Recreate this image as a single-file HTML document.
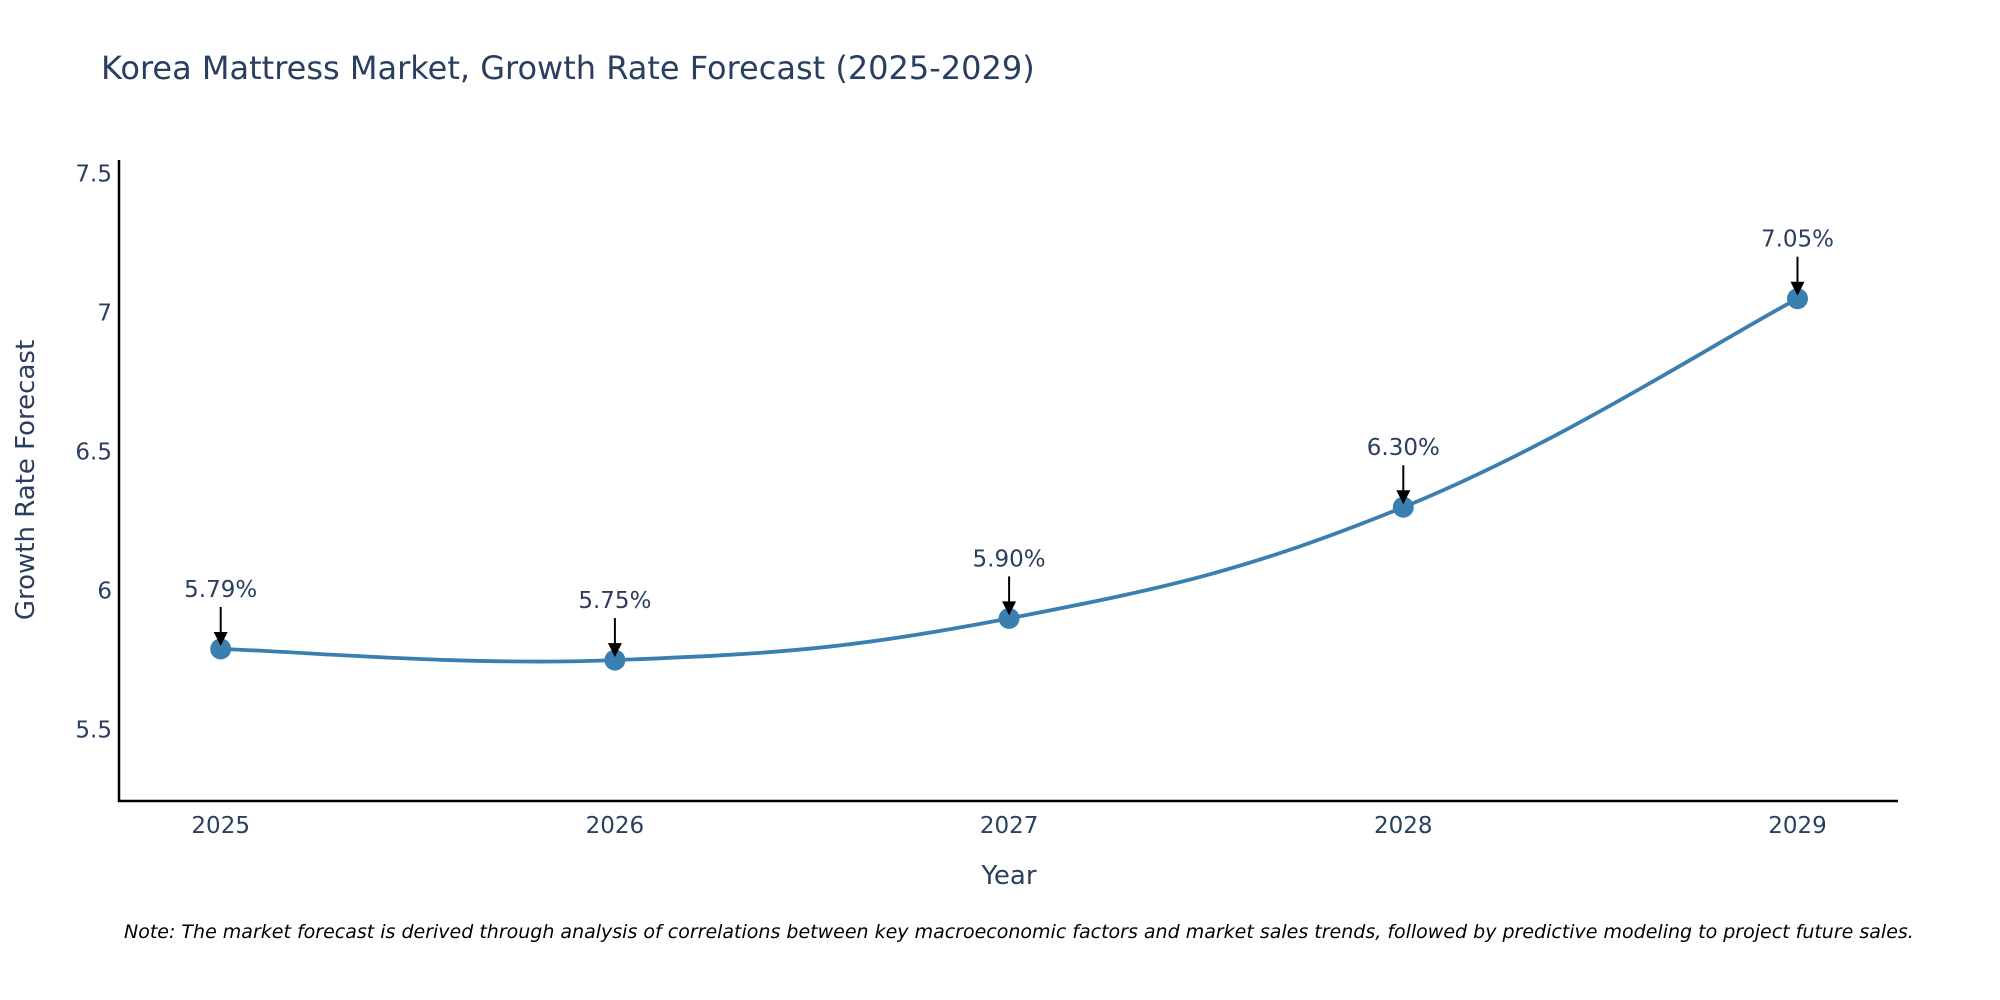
<!DOCTYPE html>
<html><head><meta charset="utf-8">
<style>
html,body{margin:0;padding:0;background:#fff;}
svg{display:block;font-family:"DejaVu Sans","Liberation Sans",sans-serif;}
</style></head>
<body>
<svg id="chart" width="2000" height="1000" viewBox="0 0 2000 1000" xmlns="http://www.w3.org/2000/svg">
<text x="101" y="79" font-size="32" fill="#2a3f5f">Korea Mattress Market, Growth Rate Forecast (2025-2029)</text>
<g id="yticks"></g>
<g id="xticks"></g>
<line x1="119" y1="160" x2="119" y2="802" stroke="#000" stroke-width="2.5"/>
<line x1="118" y1="801" x2="1898" y2="801" stroke="#000" stroke-width="2.5"/>
<g id="series"></g>
<g id="annots"></g>
<text transform="translate(34,480) rotate(-90)" text-anchor="middle" font-size="26" fill="#2a3f5f">Growth Rate Forecast</text>
<text x="1009" y="884" text-anchor="middle" font-size="26" fill="#2a3f5f">Year</text>
<text x="124" y="938" font-size="19" font-style="italic" fill="#000">Note: The market forecast is derived through analysis of correlations between key macroeconomic factors and market sales trends, followed by predictive modeling to project future sales.</text>
</svg>
<script>
const years = [2025, 2026, 2027, 2028, 2029];
const growth = [5.79, 5.75, 5.90, 6.30, 7.05];
const labels = ["5.79%", "5.75%", "5.90%", "6.30%", "7.05%"];
const yTickVals = [5.5, 6, 6.5, 7, 7.5];
const yTickLabels = ["5.5", "6", "6.5", "7", "7.5"];

const NS = "http://www.w3.org/2000/svg";
function xs(v){ return 220.7 + (v - 2025) * 394.2; }
function ys(v){ return 729.6 - (v - 5.5) * 278; }
function mk(tag, attrs, parent){
  const e = document.createElementNS(NS, tag);
  for (const k in attrs) e.setAttribute(k, attrs[k]);
  parent.appendChild(e); return e;
}
const yt = document.getElementById('yticks');
yTickVals.forEach((v,i)=>{
  const t = mk('text',{x:112,y:ys(v)+8,'text-anchor':'end','font-size':'23',fill:'#2a3f5f'},yt);
  
  
  t.textContent = yTickLabels[i];
});
const xt = document.getElementById('xticks');
years.forEach(y=>{
  const t = mk('text',{x:xs(y),y:833,'text-anchor':'middle','font-size':'23',fill:'#2a3f5f'},xt);
  
  
  t.textContent = String(y);
});
const pts = years.map((y,i)=>[xs(y), ys(growth[i])]);
let d = `M${pts[0][0]},${pts[0][1]}`;
const s = 0.2;
for (let i=0;i<pts.length-1;i++){
  const p0 = pts[Math.max(0,i-1)], p1 = pts[i], p2 = pts[i+1], p3 = pts[Math.min(pts.length-1,i+2)];
  const c1 = [p1[0] + (p2[0]-p0[0])*s, p1[1] + (p2[1]-p0[1])*s];
  const c2 = [p2[0] - (p3[0]-p1[0])*s, p2[1] - (p3[1]-p1[1])*s];
  d += ` C${c1[0]},${c1[1]} ${c2[0]},${c2[1]} ${p2[0]},${p2[1]}`;
}
const ser = document.getElementById('series');
const line = mk('path',{d:d,fill:'none',stroke:'#3b7fb1','stroke-width':'3.8'},ser);


pts.forEach(p=>{
  const c = mk('circle',{cx:p[0],cy:p[1],r:10.5,fill:'#3b7fb1'},ser);
  
  
});
const an = document.getElementById('annots');
pts.forEach((p,i)=>{
  const x=p[0], y=p[1];
  const l = mk('line',{x1:x,y1:y-42,x2:x,y2:y-14,stroke:'#000','stroke-width':'2'},an);
  
  
  const h = mk('polygon',{points:`${x-7},${y-17} ${x+7},${y-17} ${x},${y-3}`,fill:'#000'},an);
  
  
  const t = mk('text',{x:x,y:y-52,'text-anchor':'middle','font-size':'23',fill:'#2a3f5f'},an);
  
  
  t.textContent = labels[i];
});
</script>
</body></html>
